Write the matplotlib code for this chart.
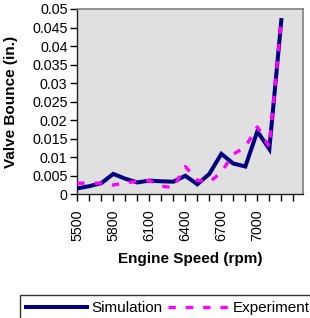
import matplotlib
matplotlib.use("Agg")
import matplotlib.pyplot as plt
from matplotlib.ticker import MultipleLocator, FixedLocator

plt.rcParams['font.family'] = ['Liberation Sans', 'DejaVu Sans']

rpm = [5500, 5600, 5700, 5800, 5900, 6000, 6100, 6200, 6300, 6400,
       6500, 6600, 6700, 6800, 6900, 7000, 7100, 7200]
simulation = [0.0016, 0.0022, 0.0030, 0.0055, 0.0042, 0.0032, 0.0037, 0.0035, 0.0034, 0.0050,
              0.0027, 0.0055, 0.0109, 0.0083, 0.0075, 0.0170, 0.0122, 0.0470]
experiment = [0.0030, 0.0030, 0.0030, 0.0025, 0.0031, 0.0035, 0.0037, 0.0022, 0.0018, 0.0075,
              0.0038, 0.0032, 0.0060, 0.0108, 0.0128, 0.0182, 0.0128, 0.0470]
xticklabels = ['5500', '5800', '6100', '6400', '6700', '7000']
yticks = [0, 0.005, 0.01, 0.015, 0.02, 0.025, 0.03, 0.035, 0.04, 0.045, 0.05]
yticklabels = ['0', '0.005', '0.01', '0.015', '0.02', '0.025', '0.03', '0.035', '0.04', '0.045', '0.05']

W, H = 310, 318
fig = plt.figure(figsize=(W / 100, H / 100), dpi=100)
ax = fig.add_axes([77.3 / W, 1 - 194.3 / H, (302.7 - 77.3) / W, (194.3 - 9) / H])
ax.set_facecolor('#E0E0E0')

ax.plot(rpm, simulation, color='#000080', lw=2.9, solid_joinstyle='miter', label='Simulation', zorder=3)
ax.plot(rpm, experiment, color='#FF00FF', lw=2.4, linestyle=(0, (2.2, 3.0)), label='Experiment', zorder=4)

ax.set_xlim(5500, 7378)
ax.set_ylim(0, 0.05)
ax.xaxis.set_major_locator(FixedLocator([int(t) for t in xticklabels]))
ax.set_xticklabels(xticklabels, rotation=90)
ax.xaxis.set_minor_locator(MultipleLocator(100))
ax.set_yticks(yticks)
ax.set_yticklabels(yticklabels)

ax.tick_params(axis='both', which='both', direction='out', length=5, width=1, color='black',
               labelsize=10.3)
ax.tick_params(axis='y', pad=2)
ax.tick_params(axis='x', pad=6)
for s in ['top', 'right']:
    ax.spines[s].set_color('#808080')
    ax.spines[s].set_linewidth(1.2)
for s in ['left', 'bottom']:
    ax.spines[s].set_color('#202020')
    ax.spines[s].set_linewidth(1.0)

ax.set_ylabel('Valve Bounce (in.)', fontsize=11, fontweight='bold', labelpad=10)
ax.set_xlabel('Engine Speed (rpm)', fontsize=11, fontweight='bold', labelpad=8)

leg = fig.legend(loc='upper left', bbox_to_anchor=(20 / W, 1 - 295 / H), ncol=2,
                 fontsize=11, frameon=True, fancybox=False, borderpad=0.4,
                 handlelength=4.0, handletextpad=0.25, columnspacing=0.4, borderaxespad=0)
leg.get_frame().set_edgecolor('black')
leg.get_frame().set_linewidth(1.0)

fig.savefig('out.png', dpi=100)
